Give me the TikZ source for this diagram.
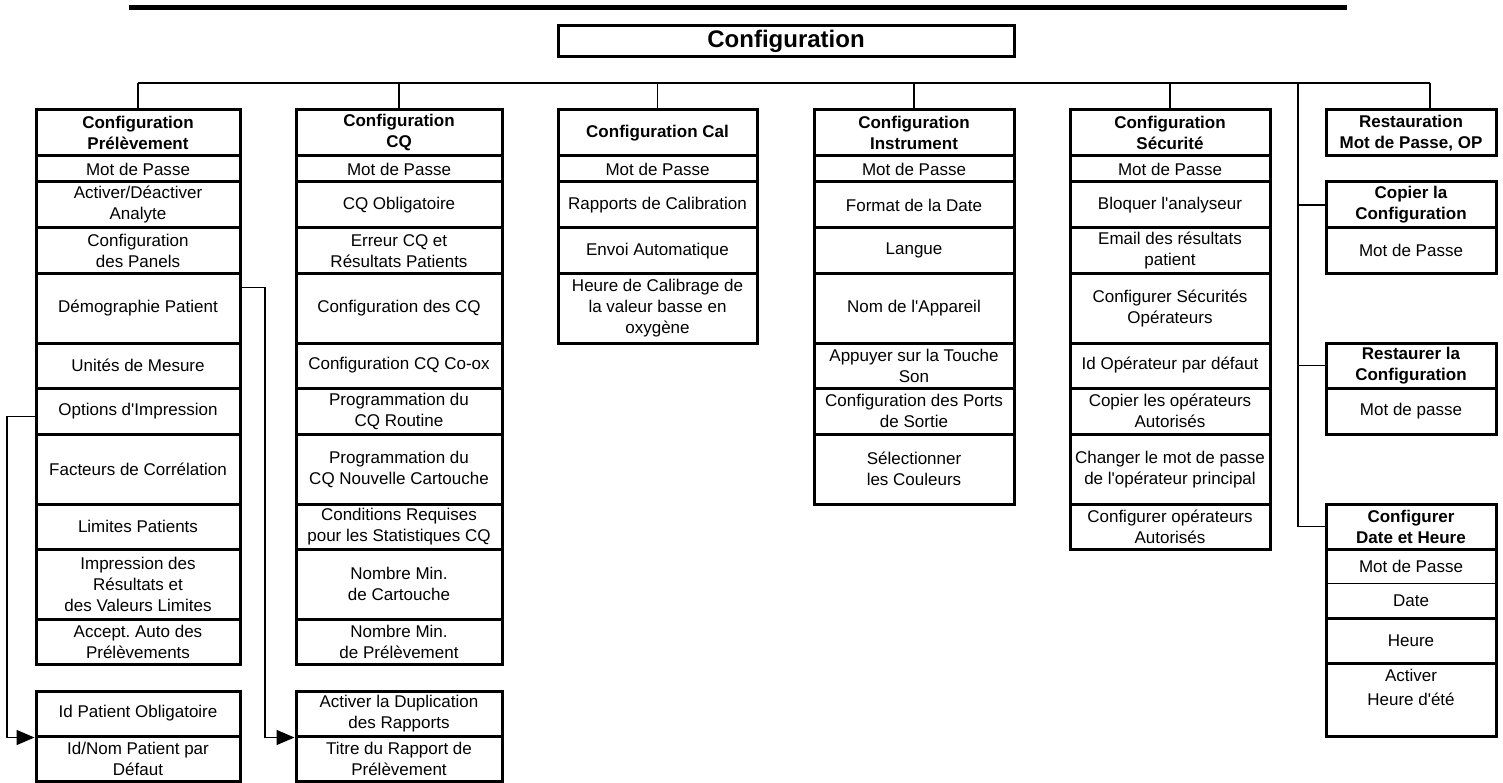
\documentclass[tikz,border=0pt]{standalone}
\usepackage{fontspec}
\setmainfont{Liberation Sans}
\usetikzlibrary{arrows.meta}
\newcommand{\apos}{\textquotesingle}
\frenchspacing

\begin{document}
\begin{tikzpicture}[
    x=1pt, y=-1pt,
    cell/.style={draw, line width=3pt, inner sep=0pt, align=center, font=\fontsize{17}{21}\selectfont},
    headcell/.style={cell, font=\fontsize{17}{21}\selectfont\bfseries},
    bus/.style={line width=1.4pt},
    jump/.style={line width=1.4pt, -{Triangle[length=18pt, width=15pt]}}
  ]
  \useasboundingbox (0,0) rectangle (1503,783);

  % title
  \draw[line width=5pt] (129,8) -- (1347,8);
  \node[cell, minimum width=456pt, minimum height=31pt, font=\fontsize{24}{28}\selectfont\bfseries] (top) at (786,41.5) {Configuration};

  % column 1
  \node[headcell, minimum width=204pt, minimum height=46pt] (pre0) at (138,133) {Configuration\\Prélèvement};
  \foreach \nm/\ya/\yb/\txt in {
      1/156/182/{Mot de Passe},
      2/182/228/{Activer/Déactiver\\Analyte},
      3/228/273.5/{Configuration\\des Panels},
      4/273.5/343/{Démographie Patient},
      5/343/388/{Unités de Mesure},
      6/388/434.5/{Options d\apos Impression},
      7/434.5/504/{Facteurs de Corrélation},
      8/504/549/{Limites Patients},
      9/549/619/{Impression des\\Résultats et\\des Valeurs Limites},
      10/619/664/{Accept. Auto des\\Prélèvements}}{
    \node[cell, minimum width=204pt, minimum height={(\yb-\ya)*1pt}] (pre\nm) at (138,{(\ya+\yb)/2}) {\txt};
  }
  \node[cell, minimum width=204pt, minimum height=45pt] (pid1) at (138,713.5) {Id Patient Obligatoire};
  \node[cell, minimum width=204pt, minimum height=45pt] (pid2) at (138,758.5) {Id/Nom Patient par\\Défaut};

  % column 2
  \node[headcell, minimum width=206pt, minimum height=46pt] (cq0) at (399,133) {Configuration\\CQ};
  \foreach \nm/\ya/\yb/\txt in {
      1/156/182/{Mot de Passe},
      2/182/228/{CQ Obligatoire},
      3/228/273.5/{Erreur CQ et\\Résultats Patients},
      4/273.5/343/{Configuration des CQ},
      5/343/388/{Configuration CQ Co-ox},
      6/388/434.5/{Programmation du\\CQ Routine},
      7/434.5/504/{Programmation du\\CQ Nouvelle Cartouche},
      8/504/549/{Conditions Requises\\pour les Statistiques CQ},
      9/549/619/{Nombre Min.\\de Cartouche},
      10/619/664/{Nombre Min.\\de Prélèvement}}{
    \node[cell, minimum width=206pt, minimum height={(\yb-\ya)*1pt}] (cq\nm) at (399,{(\ya+\yb)/2}) {\txt};
  }
  \node[cell, minimum width=206pt, minimum height=45pt] (rep1) at (399,713.5) {Activer la Duplication\\des Rapports};
  \node[cell, minimum width=206pt, minimum height=45pt] (rep2) at (399,758.5) {Titre du Rapport de\\Prélèvement};

  % column 3
  \node[headcell, minimum width=199pt, minimum height=46pt] (cal0) at (657.5,133) {Configuration Cal};
  \foreach \nm/\ya/\yb/\txt in {
      1/156/182/{Mot de Passe},
      2/182/228/{Rapports de Calibration},
      3/228/273.5/{Envoi Automatique},
      4/273.5/343/{Heure de Calibrage de\\la valeur basse en\\oxygène}}{
    \node[cell, minimum width=199pt, minimum height={(\yb-\ya)*1pt}] (cal\nm) at (657.5,{(\ya+\yb)/2}) {\txt};
  }

  % column 4
  \node[headcell, minimum width=200pt, minimum height=46pt] (ins0) at (914,133) {Configuration\\Instrument};
  \foreach \nm/\ya/\yb/\txt in {
      1/156/182/{Mot de Passe},
      2/182/228/{Format de la Date},
      3/228/273.5/{Langue},
      4/273.5/343/{Nom de l\apos Appareil},
      5/343/388/{Appuyer sur la Touche\\Son},
      6/388/434.5/{Configuration des Ports\\de Sortie},
      7/434.5/504/{Sélectionner\\les Couleurs}}{
    \node[cell, minimum width=200pt, minimum height={(\yb-\ya)*1pt}] (ins\nm) at (914,{(\ya+\yb)/2}) {\txt};
  }

  % column 5
  \node[headcell, minimum width=200pt, minimum height=46pt] (sec0) at (1170,133) {Configuration\\Sécurité};
  \foreach \nm/\ya/\yb/\txt in {
      1/156/182/{Mot de Passe},
      2/182/228/{Bloquer l\apos analyseur},
      3/228/273.5/{Email des résultats\\patient},
      4/273.5/343/{Configurer Sécurités\\Opérateurs},
      5/343/388/{Id Opérateur par défaut},
      6/388/434.5/{Copier les opérateurs\\Autorisés},
      7/434.5/504/{Changer le mot de passe\\de l\apos opérateur principal},
      8/504/549/{Configurer opérateurs\\Autorisés}}{
    \node[cell, minimum width=200pt, minimum height={(\yb-\ya)*1pt}] (sec\nm) at (1170,{(\ya+\yb)/2}) {\txt};
  }

  % column 6
  \node[headcell, minimum width=170pt, minimum height=46pt] (rst) at (1411,133) {Restauration\\Mot de Passe, OP};
  \node[headcell, minimum width=170pt, minimum height=46pt] (cop0) at (1411,205) {Copier la\\Configuration};
  \node[cell, minimum width=170pt, minimum height=45.5pt] (cop1) at (1411,250.75) {Mot de Passe};
  \node[headcell, minimum width=170pt, minimum height=45pt] (rsc0) at (1411,365.5) {Restaurer la\\Configuration};
  \node[cell, minimum width=170pt, minimum height=46.5pt] (rsc1) at (1411,411.25) {Mot de passe};
  \node[headcell, minimum width=170pt, minimum height=45pt] (cdt0) at (1411,526.5) {Configurer\\Date et Heure};
  \node[cell, draw=none, outer sep=0pt, minimum width=170pt, minimum height=34pt] (cdt1) at (1411,566) {Mot de Passe};
  \node[cell, draw=none, outer sep=0pt, minimum width=170pt, minimum height=35pt] (cdt2) at (1411,600.5) {Date};
  \draw[line width=3pt] (cdt1.north west) rectangle (cdt2.south east);
  \draw[line width=1pt] (cdt1.south west) -- (cdt1.south east);
  \node[cell, minimum width=170pt, minimum height=45pt] (cdt3) at (1411,640.5) {Heure};
  \node[cell, minimum width=170pt, minimum height=73pt] (cdt4) at (1411,699.5) {Activer\\[3pt]Heure d\apos été\\[3pt]~};

  % bus and stems
  \coordinate (busL) at (138,83);
  \coordinate (busR) at (1430,83);
  \coordinate (busM) at (1298,83);
  \draw[bus] (busL) -- (busR);
  \foreach \c in {pre0, cq0, cal0, ins0, sec0}{
    \draw[bus] (\c.north) -- (\c.north |- busL);
  }
  \draw[bus] (busR) -- (busR |- rst.north);
  \draw[bus] (busM) |- (cdt0.west);
  \draw[bus] (cop0.west) -- (cop0.west -| busM);
  \draw[bus] (rsc0.west) -- (rsc0.west -| busM);

  % jumps to the lower boxes
  \coordinate (loopA) at (7,0);
  \coordinate (loopB) at (265,0);
  \draw[jump] ([yshift=-5pt]pre6.west) -- ([yshift=-5pt]pre6.west -| loopA) |- (pid1.south west);
  \draw[jump] ([yshift=21pt]pre4.east) -- ([yshift=21pt]pre4.east -| loopB) |- (rep1.south west);
\end{tikzpicture}
\end{document}
